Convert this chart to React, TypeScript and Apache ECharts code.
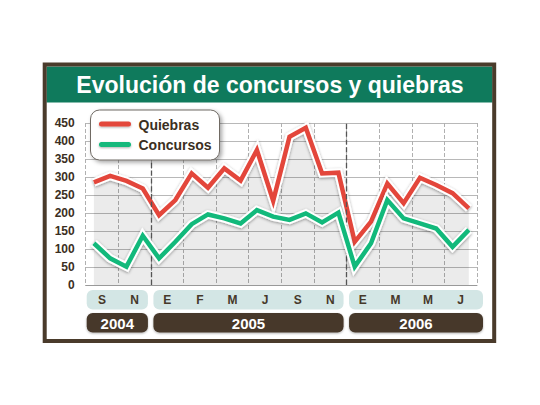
import React, { useEffect, useRef } from "react";
import * as echarts from "echarts";

const categories = [
  "2004-09", "2004-10", "2004-11", "2004-12",
  "2005-01", "2005-02", "2005-03", "2005-04", "2005-05", "2005-06",
  "2005-07", "2005-08", "2005-09", "2005-10", "2005-11", "2005-12",
  "2006-01", "2006-02", "2006-03", "2006-04", "2006-05", "2006-06",
  "2006-07", "2006-08",
];
const quiebras = [285, 303, 289, 268, 194, 236, 310, 270, 324, 290, 375, 234, 412, 437, 310, 312, 120, 176, 282, 227, 298, 278, 255, 213];
const concursos = [116, 74, 51, 137, 74, 120, 169, 196, 185, 171, 208, 190, 181, 199, 174, 201, 51, 116, 236, 185, 171, 157, 106, 153];
const monthLabels = ["S", "N", "E", "F", "M", "J", "S", "N", "E", "M", "M", "J"];
const yTicks = [0, 50, 100, 150, 200, 250, 300, 350, 400, 450];
const seriesNames = ["Quiebras", "Concursos"];
const title = "Evolución de concursos y quiebras";

const FONT = "'Liberation Sans', Arial, Helvetica, sans-serif";
const RED = "#e3463b";
const GREEN = "#12b97b";
const BROWN = "#46382a";
const TEXT = "#3b2f22";

export default function App() {
  const ref = useRef<HTMLDivElement>(null);
  useEffect(() => {
    if (!ref.current) return;
    const chart = echarts.init(ref.current, null, { renderer: "svg" });
    const n = categories.length;
    const outline = { color: "#ffffff", width: 8.5, join: "miter", shadowBlur: 3, shadowColor: "rgba(0,0,0,0.4)", shadowOffsetY: 1 };
    const option: any = {
      animation: false,
      backgroundColor: "#ffffff",
      grid: { left: 85.7, right: 63, top: 123, bottom: 120, containLabel: false },
      xAxis: [
        {
          type: "category",
          data: categories,
          boundaryGap: true,
          axisLine: { show: true, lineStyle: { color: "#999999", width: 1 } },
          axisTick: { show: false },
          axisLabel: { show: false },
          splitLine: { show: false },
        },
        {
          type: "value",
          min: 0,
          max: n,
          interval: 2,
          position: "top",
          axisLine: { show: false },
          axisTick: { show: false },
          axisLabel: { show: false },
          splitLine: { show: true, lineStyle: { type: "dashed", color: "#b0b0b0", width: 1 } },
        },
      ],
      yAxis: {
        type: "value",
        min: yTicks[0],
        max: yTicks[yTicks.length - 1],
        interval: 50,
        axisLine: { show: false },
        axisTick: { show: false },
        axisLabel: { fontWeight: "bold", fontSize: 12, color: TEXT, fontFamily: FONT, margin: 11 },
        splitLine: { show: true, lineStyle: { color: "#b8b8b8", width: 1 } },
      },
      series: [
        {
          name: "years",
          type: "line",
          xAxisIndex: 1,
          data: [[0, 0]],
          symbol: "none",
          silent: true,
          lineStyle: { opacity: 0 },
          z: 2,
          markLine: {
            silent: true,
            symbol: "none",
            label: { show: false },
            lineStyle: { type: "dashed", color: "#555555", width: 1.3 },
            data: [{ xAxis: 4 }, { xAxis: 16 }],
          },
        },
        {
          name: "q-outline",
          type: "line",
          data: quiebras,
          symbol: "none",
          silent: true,
          z: 3,
          lineStyle: outline,
          areaStyle: { color: "rgba(0,0,0,0.11)" },
        },
        {
          name: seriesNames[0],
          type: "line",
          data: quiebras,
          symbol: "none",
          z: 4,
          itemStyle: { color: RED },
          lineStyle: { color: RED, width: 4.5, join: "miter" },
        },
        {
          name: "c-outline",
          type: "line",
          data: concursos,
          symbol: "none",
          silent: true,
          z: 5,
          lineStyle: outline,
        },
        {
          name: seriesNames[1],
          type: "line",
          data: concursos,
          symbol: "none",
          z: 6,
          itemStyle: { color: GREEN },
          lineStyle: { color: GREEN, width: 4.5, join: "miter" },
        },
      ],
    };
    chart.setOption(option);

    const px = (v: number) => chart.convertToPixel({ xAxisIndex: 1 } as any, v) as number;
    const groups: { year: string; s: number; e: number }[] = [];
    categories.forEach((c, i) => {
      const y = c.slice(0, 4);
      const last = groups[groups.length - 1];
      if (!last || last.year !== y) groups.push({ year: y, s: i, e: i + 1 });
      else last.e = i + 1;
    });
    const graphics: any[] = [
      {
        type: "rect",
        shape: { x: 44.7, y: 64.5, width: 449.5, height: 276.5 },
        style: { fill: "none", stroke: "#4a3b2b", lineWidth: 4 },
        z: 10,
      },
      {
        type: "rect",
        shape: { x: 46.5, y: 66.5, width: 446, height: 36 },
        style: { fill: "#0f7a5c" },
        z: 9,
      },
      {
        type: "text",
        x: 270,
        y: 84.5,
        style: { text: title, fill: "#ffffff", font: `bold 23px ${FONT}`, align: "center", verticalAlign: "middle" },
        z: 11,
      },
      {
        type: "rect",
        shape: { x: 90.5, y: 110, width: 129, height: 50, r: 9 },
        style: { fill: "#ffffff", stroke: "#6f6a64", lineWidth: 1, shadowBlur: 4, shadowColor: "rgba(0,0,0,0.35)", shadowOffsetX: 2, shadowOffsetY: 2 },
        z: 20,
      },
    ];
    [RED, GREEN].forEach((col, i) => {
      const yy = 124 + i * 20.5;
      graphics.push({
        type: "rect",
        shape: { x: 99, y: yy - 2.5, width: 32, height: 5, r: 2.5 },
        style: { fill: col, shadowBlur: 2, shadowColor: "rgba(0,0,0,0.3)", shadowOffsetY: 1 },
        z: 21,
      });
      graphics.push({
        type: "text",
        x: 138.5,
        y: yy + 0.5,
        style: { text: seriesNames[i], fill: TEXT, font: `bold 14px ${FONT}`, align: "left", verticalAlign: "middle" },
        z: 21,
      });
    });
    groups.forEach((g) => {
      const x0 = px(g.s) + (g.s === 0 ? 1 : 2.5);
      const x1 = px(g.e) + (g.e === n ? 6 : -3);
      graphics.push({
        type: "rect",
        shape: { x: x0, y: 290, width: x1 - x0, height: 19.5, r: 6 },
        style: { fill: "#d3e6e5" },
        z: 5,
      });
      graphics.push({
        type: "rect",
        shape: { x: x0, y: 313, width: x1 - x0, height: 19.5, r: 6 },
        style: { fill: BROWN, shadowBlur: 2, shadowColor: "rgba(0,0,0,0.3)", shadowOffsetY: 1 },
        z: 5,
      });
      graphics.push({
        type: "text",
        x: (x0 + x1) / 2,
        y: 323,
        style: { text: g.year, fill: "#ffffff", font: `bold 15px ${FONT}`, align: "center", verticalAlign: "middle" },
        z: 6,
      });
    });
    monthLabels.forEach((m, k) => {
      graphics.push({
        type: "text",
        x: px(2 * k + 1),
        y: 300,
        style: { text: m, fill: BROWN, font: `bold 12px ${FONT}`, align: "center", verticalAlign: "middle" },
        z: 6,
      });
    });
    chart.setOption({ graphic: graphics });

    return () => chart.dispose();
  }, []);
  return (
    <div
      ref={ref}
      style={{ position: "fixed", left: 0, top: 0, width: 540, height: 405, background: "#fff" }}
    />
  );
}
